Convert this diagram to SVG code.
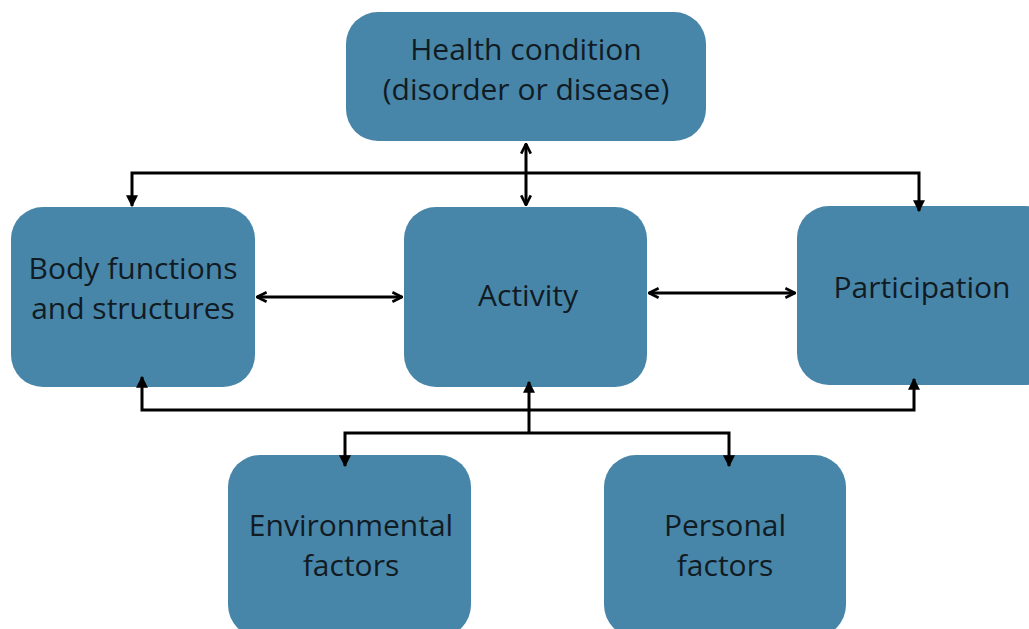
<svg xmlns="http://www.w3.org/2000/svg" width="1029" height="629" viewBox="0 0 1029 629">
<style>
.box{fill:#4886a9}
.t{font-family:"Open Sans","Liberation Sans",sans-serif;font-size:30px;fill:#111b24;text-anchor:middle}
.c{fill:none;stroke:#000;stroke-width:3}
</style>
<defs>
<marker id="tri" viewBox="0 0 10 10" refX="9" refY="5" markerWidth="4" markerHeight="4" orient="auto-start-reverse" markerUnits="strokeWidth">
<path d="M0,0 L10,5 L0,10 z" fill="#000"/>
</marker>
<marker id="chev" viewBox="0 0 10 10" refX="9" refY="5" markerWidth="4" markerHeight="4" orient="auto-start-reverse" markerUnits="strokeWidth">
<path d="M1,1 L9,5 L1,9" fill="none" stroke="#000" stroke-width="2.2"/>
</marker>
</defs>
<rect width="1029" height="629" fill="#fff"/>
<g id="health"><rect class="box" x="346" y="12" width="360" height="129" rx="32"/>
<text class="t" x="526" y="60">Health condition</text><text class="t" x="526" y="100">(disorder or disease)</text></g>
<g id="body"><rect class="box" x="11" y="207" width="244" height="180" rx="32"/>
<text class="t" x="133" y="279">Body functions</text><text class="t" x="133" y="319">and structures</text></g>
<g id="activity"><rect class="box" x="404" y="207" width="243" height="180" rx="32"/>
<text class="t" x="528" y="306">Activity</text></g>
<g id="participation"><rect class="box" x="797" y="206" width="260" height="179" rx="32"/>
<text class="t" x="922" y="298">Participation</text></g>
<g id="environmental"><rect class="box" x="228" y="455" width="243" height="182" rx="32"/>
<text class="t" x="351" y="536">Environmental</text><text class="t" x="351" y="576">factors</text></g>
<g id="personal"><rect class="box" x="604" y="455" width="242" height="182" rx="32"/>
<text class="t" x="725" y="536">Personal</text><text class="t" x="725" y="576">factors</text></g>
<g id="connectors">
<path class="c" d="M526,144 L526,205" marker-start="url(#chev)" marker-end="url(#chev)"/>
<path class="c" d="M132,206 L132,173 L919,173 L919,211" marker-end="url(#tri)" marker-start="url(#tri)"/>
<path class="c" d="M257,297 L402,297" marker-start="url(#chev)" marker-end="url(#chev)"/>
<path class="c" d="M649,293 L795,293" marker-start="url(#chev)" marker-end="url(#chev)"/>
<path class="c" d="M142,377 L142,410 L914,410 L914,379" marker-start="url(#tri)" marker-end="url(#tri)"/>
<path class="c" d="M529,432 L529,382" marker-end="url(#tri)"/>
<path class="c" d="M345,466 L345,433 L729,433 L729,466" marker-start="url(#tri)" marker-end="url(#tri)"/>
</g>
</svg>
